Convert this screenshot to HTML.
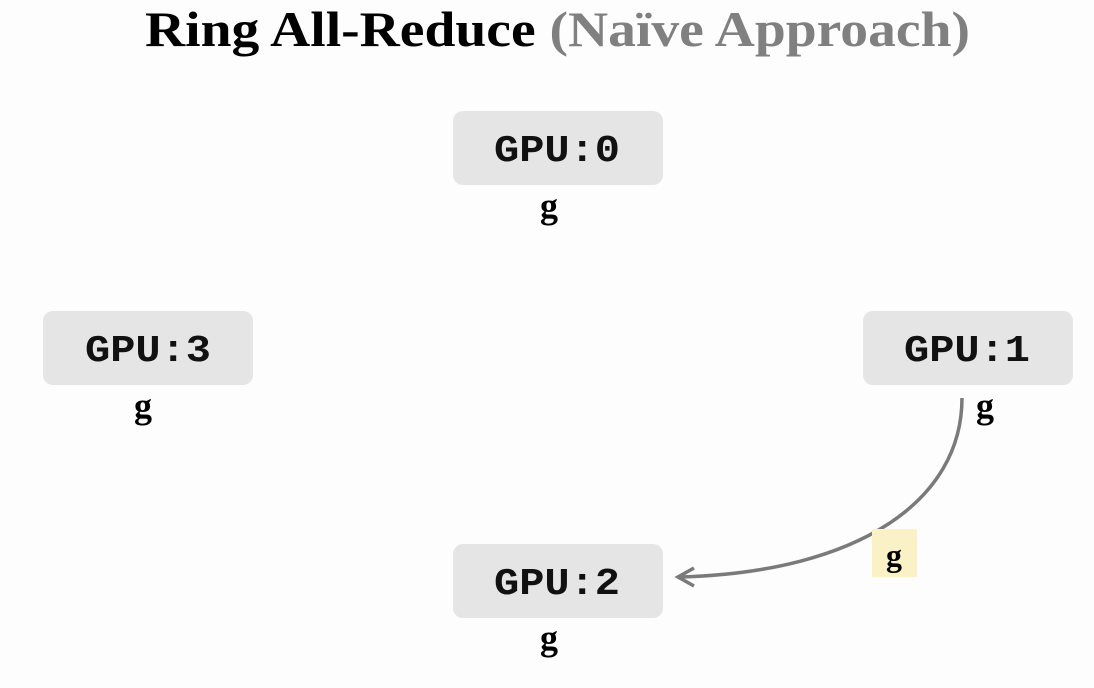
<!DOCTYPE html>
<html><head><meta charset="utf-8"><style>
html,body{margin:0;padding:0;background:#fdfdfd;}
svg{display:block;}
.m{font-family:"Liberation Mono",monospace;font-weight:bold;font-size:38px;fill:#111;}
.g{font-family:"Liberation Serif",serif;font-weight:bold;font-size:36px;fill:#000;}
</style></head><body>
<svg width="1094" height="688" viewBox="0 0 1094 688" xmlns="http://www.w3.org/2000/svg">
<rect width="1094" height="688" fill="#fdfdfd"/>
<text x="145" y="46" textLength="825" lengthAdjust="spacingAndGlyphs" font-family="Liberation Serif, serif" font-weight="bold" font-size="50" fill="#000">Ring All-Reduce <tspan fill="#808080">(Naïve Approach)</tspan></text>
<g fill="#e6e5e6">
<rect x="453" y="111" width="210" height="74" rx="10"/>
<rect x="43" y="311" width="210" height="74" rx="10"/>
<rect x="863" y="311" width="210" height="74" rx="10"/>
<rect x="453" y="544" width="210" height="74" rx="10"/>
</g>
<text class="m" x="494" y="161" textLength="126" lengthAdjust="spacingAndGlyphs">GPU:0</text>
<text class="m" x="85" y="361" textLength="126" lengthAdjust="spacingAndGlyphs">GPU:3</text>
<text class="m" x="904" y="361" textLength="126" lengthAdjust="spacingAndGlyphs">GPU:1</text>
<text class="m" x="494" y="594" textLength="126" lengthAdjust="spacingAndGlyphs">GPU:2</text>
<text class="g" x="549" y="218" text-anchor="middle">g</text>
<text class="g" x="143" y="418" text-anchor="middle">g</text>
<text class="g" x="985" y="418" text-anchor="middle">g</text>
<text class="g" x="549" y="650" text-anchor="middle">g</text>
<path d="M962,398 C962,500 860,572 680,577" fill="none" stroke="#7a7a7a" stroke-width="3.5"/>
<path d="M694,568 L678,577 L694,586" fill="none" stroke="#7a7a7a" stroke-width="3.5"/>
<rect x="872" y="529" width="45" height="48" fill="#fbf1c6"/>
<text class="g" x="894" y="566" text-anchor="middle" style="font-size:32px">g</text>
</svg>
</body></html>
